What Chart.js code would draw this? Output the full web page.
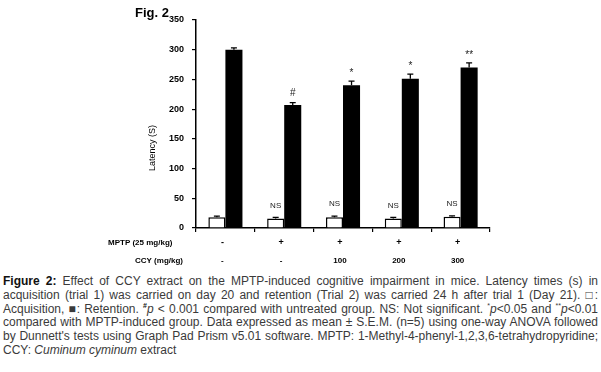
<!DOCTYPE html>
<html>
<head>
<meta charset="utf-8">
<script src="https://cdn.jsdelivr.net/npm/chart.js@4"></script>
<style>
  body { margin: 0; background: #fff; }
  #wrap { position: relative; width: 601px; height: 372px; overflow: hidden; }
  #chart { position: absolute; left: 0; top: 0; }
  #caption {
    position: absolute; left: 3px; top: 275px; width: 595px;
    font: 12px "Liberation Sans", Arial, sans-serif; line-height: 13.8px;
    color: #3a3a3a; text-align: justify;
  }
  #caption b { color: #111; }
  #caption sup { font-size: 7px; line-height: 0; }
</style>
</head>
<body>
<div id="wrap">
  <canvas id="chart" width="601" height="272"></canvas>
  <div id="caption"><b>Figure 2:</b> Effect of CCY extract on the MPTP-induced cognitive impairment in mice. Latency times (s) in acquisition (trial 1) was carried on day 20 and retention (Trial 2) was carried 24 h after trial 1 (Day 21). &#9633;: Acquisition, &#9632;: Retention. <sup><b>#</b></sup><i>p</i> &lt; 0.001 compared with untreated group. NS: Not significant. <sup>*</sup><i>p</i>&lt;0.05 and <sup>**</sup><i>p</i>&lt;0.01 compared with MPTP-induced group. Data expressed as mean ± S.E.M. (n=5) using one-way ANOVA followed by Dunnett's tests using Graph Pad Prism v5.01 software. MPTP: 1-Methyl-4-phenyl-1,2,3,6-tetrahydropyridine; CCY: <i>Cuminum cyminum</i> extract</div>
</div>
<script>
// groups along the x axis
const groups = ['G1', 'G2', 'G3', 'G4', 'G5'];
const mptpLabels = ['-', '+', '+', '+', '+'];
const ccyLabels = ['-', '-', '100', '200', '300'];

// latency (s), mean and S.E.M.
const acquisition = [18, 16, 18, 16, 19];
const acquisitionErr = [2, 2, 2, 2, 1.5];
const retention = [300, 207, 240, 251, 270];
const retentionErr = [3, 4, 7, 8, 8];

// significance marks above bars
const acquisitionMarks = ['', 'NS', 'NS', 'NS', 'NS'];
const retentionMarks = ['', '#', '*', '*', '**'];

const yMin = 0, yMax = 350, yStep = 50;

const errors = [acquisitionErr, retentionErr];
const marks = [acquisitionMarks, retentionMarks];
const sans = '"Liberation Sans", Arial, sans-serif';
const narrow = '"Liberation Sans Narrow", "Liberation Sans", Arial, sans-serif';

const extras = {
  id: 'extras',
  afterDatasetsDraw(chart) {
    const ctx = chart.ctx;
    const y = chart.scales.y;
    ctx.save();
    ctx.strokeStyle = '#000';
    ctx.lineWidth = 1.3;
    chart.data.datasets.forEach((ds, i) => {
      const meta = chart.getDatasetMeta(i);
      meta.data.forEach((bar, j) => {
        const top = y.getPixelForValue(ds.data[j] + errors[i][j]);
        const base = y.getPixelForValue(ds.data[j]);
        ctx.beginPath();
        ctx.moveTo(bar.x, base);
        ctx.lineTo(bar.x, top);
        ctx.moveTo(bar.x - 3, top);
        ctx.lineTo(bar.x + 3, top);
        ctx.stroke();
        const m = marks[i][j];
        if (m) {
          ctx.fillStyle = '#222';
          ctx.textAlign = 'center';
          ctx.textBaseline = 'middle';
          if (m === 'NS') {
            ctx.font = '8px ' + narrow;
            ctx.fillText(m, bar.x, top - 12);
          } else {
            ctx.font = '10px ' + sans;
            ctx.fillText(m, bar.x, top - (m === '#' ? 9 : 8));
          }
        }
      });
    });
    ctx.restore();
  },
  afterDraw(chart) {
    const ctx = chart.ctx;
    const x = chart.scales.x;
    ctx.save();
    ctx.fillStyle = '#000';
    ctx.textBaseline = 'middle';
    ctx.font = 'bold 13px ' + narrow;
    ctx.textAlign = 'left';
    ctx.fillText('Fig. 2', 135, 13);
    ctx.font = 'bold 8px ' + sans;
    ctx.fillText('MPTP (25 mg/kg)', 108, 243);
    ctx.fillText('CCY (mg/kg)', 135, 261);
    ctx.textAlign = 'center';
    groups.forEach((g, j) => {
      const cx = x.getPixelForValue(j) - 3;
      ctx.font = 'bold 9px ' + sans;
      ctx.fillText(mptpLabels[j], cx, 243);
      ctx.font = 'bold 8px ' + sans;
      ctx.fillText(ccyLabels[j], cx, 261);
    });
    ctx.translate(153, 148);
    ctx.rotate(-Math.PI / 2);
    ctx.font = '9px ' + sans;
    ctx.fillText('Latency (S)', 0, 0);
    ctx.restore();
  }
};

Chart.defaults.font.family = sans;
Chart.defaults.color = '#000';

new Chart(document.getElementById('chart'), {
  type: 'bar',
  data: {
    labels: groups,
    datasets: [
      {
        label: 'Acquisition',
        data: acquisition,
        backgroundColor: '#fff',
        borderColor: '#000',
        borderWidth: 1.5
      },
      {
        label: 'Retention',
        data: retention,
        backgroundColor: '#000',
        borderColor: '#000',
        borderWidth: 0
      }
    ]
  },
  options: {
    responsive: false,
    animation: false,
    events: [],
    layout: { padding: { left: 136, right: 111, top: 20, bottom: 40 } },
    datasets: { bar: { categoryPercentage: 0.58, barPercentage: 1 } },
    plugins: { legend: { display: false }, tooltip: { enabled: false } },
    scales: {
      x: {
        offset: true,
        grid: { display: true, offset: true, drawOnChartArea: false, color: '#000', lineWidth: 1.2, tickLength: 4 },
        border: { display: true, color: '#000', width: 1.5 },
        ticks: { display: false },
        afterFit(scale) { scale.height = 4; }
      },
      y: {
        min: yMin,
        max: yMax,
        grid: { drawOnChartArea: false, color: '#000', lineWidth: 1.2, tickLength: 4 },
        border: { display: true, color: '#000', width: 1.5 },
        ticks: { stepSize: yStep, padding: 8, font: { size: 9, weight: 'bold' }, color: '#000' },
        afterFit(scale) { scale.width = 60; }
      }
    }
  },
  plugins: [extras]
});
</script>
</body>
</html>
